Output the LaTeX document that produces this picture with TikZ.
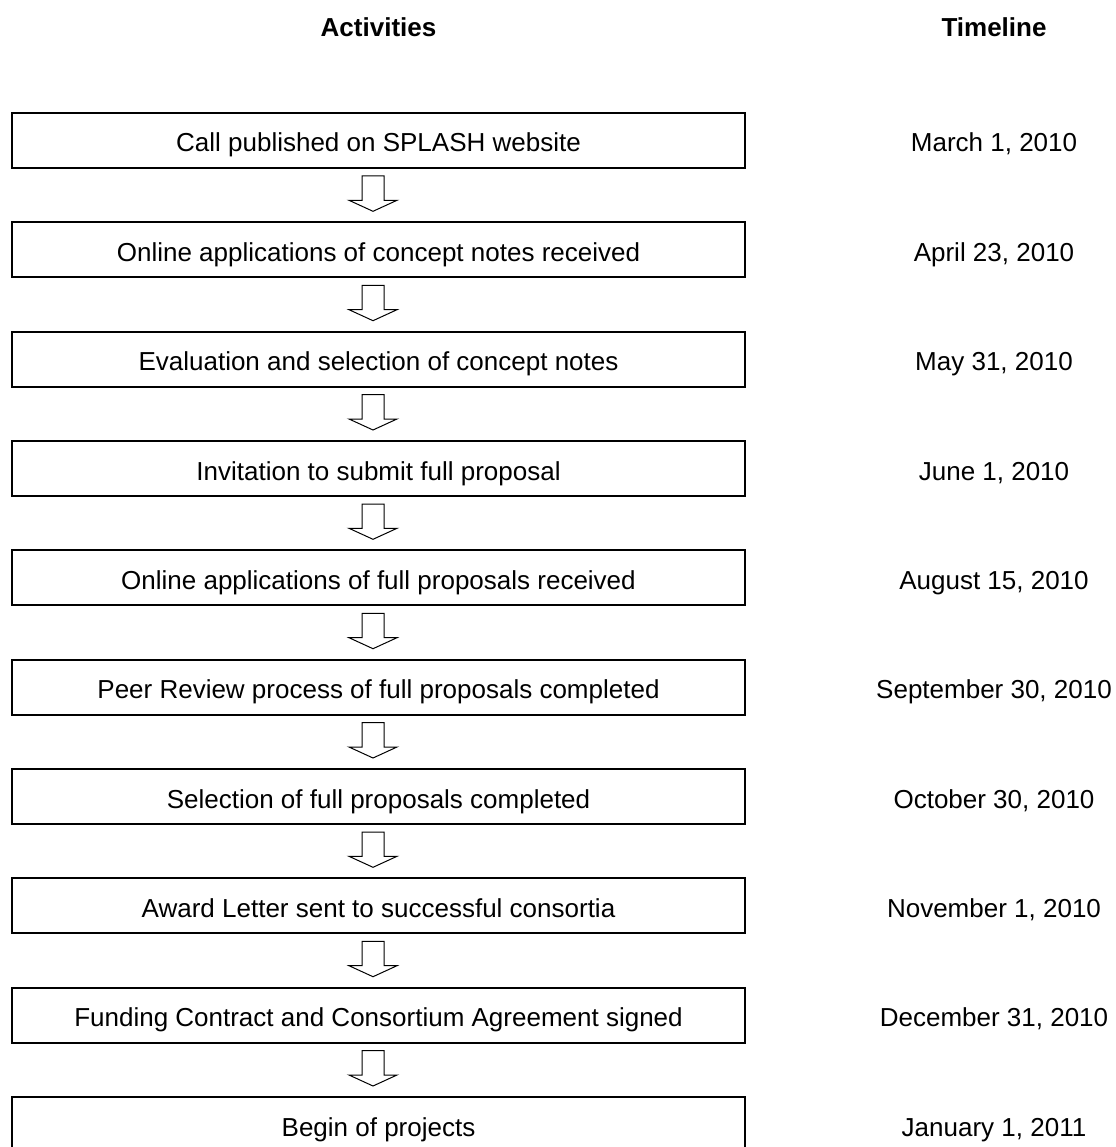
\documentclass[tikz,border=0pt]{standalone}
\usepackage{fontspec}
\setmainfont{Liberation Sans}
\usetikzlibrary{calc}

\tikzset{
    activity/.style={draw, line width=2pt, minimum width=733pt, minimum height=55pt,
        inner sep=0pt, text height=23pt, text depth=0pt},
    date/.style={inner sep=0pt, text height=23pt, text depth=0pt},
    heading/.style={inner sep=0pt, anchor=base, font=\fontsize{26}{30}\selectfont\bfseries},
    flowarrow/.style={line width=1pt, to path={
        let \p1=(\tikztostart.south), \p2=(\tikztotarget.north) in
        (\x1-16.5pt,\y1-7pt) -- (\x1+5.5pt,\y1-7pt) -- (\x1+5.5pt,\y2+21pt)
        -- (\x1+18.5pt,\y2+21pt) -- (\x1-5.5pt,\y2+10pt) -- (\x1-29.5pt,\y2+21pt)
        -- (\x1-16.5pt,\y2+21pt) -- cycle}}
}

\begin{document}
\begin{tikzpicture}[x=1pt, y=-1pt, font=\fontsize{26}{30}\selectfont]
    \useasboundingbox (0,0) rectangle (1115,1147);

    % Headings
    \path
    (378.5, 37) node[heading] (hact) {Activities}
    (994, 37) node[heading] (htime) {Timeline}
    ;

    % Activity boxes
    \path
    (378.5, 140.5) node[activity] (A1) {Call published on SPLASH website}
    (378.5, 249.8) node[activity] (A2) {Online applications of concept notes received}
    (378.5, 359.2) node[activity] (A3) {Evaluation and selection of concept notes}
    (378.5, 468.5) node[activity] (A4) {Invitation to submit full proposal}
    (378.5, 577.8) node[activity] (A5) {Online applications of full proposals received}
    (378.5, 687.2) node[activity] (A6) {Peer Review process of full proposals completed}
    (378.5, 796.5) node[activity] (A7) {Selection of full proposals completed}
    (378.5, 905.8) node[activity] (A8) {Award Letter sent to successful consortia}
    (378.5, 1015.2) node[activity] (A9) {Funding Contract and Consortium Agreement signed}
    (378.5, 1124.5) node[activity] (A10) {Begin of projects}
    ;

    % Dates
    \path
    (994, 140.5) node[date] (D1) {March 1, 2010}
    (994, 249.8) node[date] (D2) {April 23, 2010}
    (994, 359.2) node[date] (D3) {May 31, 2010}
    (994, 468.5) node[date] (D4) {June 1, 2010}
    (994, 577.8) node[date] (D5) {August 15, 2010}
    (994, 687.2) node[date] (D6) {September 30, 2010}
    (994, 796.5) node[date] (D7) {October 30, 2010}
    (994, 905.8) node[date] (D8) {November 1, 2010}
    (994, 1015.2) node[date] (D9) {December 31, 2010}
    (994, 1124.5) node[date] (D10) {January 1, 2011}
    ;

    % Arrows
    \draw[flowarrow] (A1) to (A2);
    \draw[flowarrow] (A2) to (A3);
    \draw[flowarrow] (A3) to (A4);
    \draw[flowarrow] (A4) to (A5);
    \draw[flowarrow] (A5) to (A6);
    \draw[flowarrow] (A6) to (A7);
    \draw[flowarrow] (A7) to (A8);
    \draw[flowarrow] (A8) to (A9);
    \draw[flowarrow] (A9) to (A10);

\end{tikzpicture}
\end{document}
